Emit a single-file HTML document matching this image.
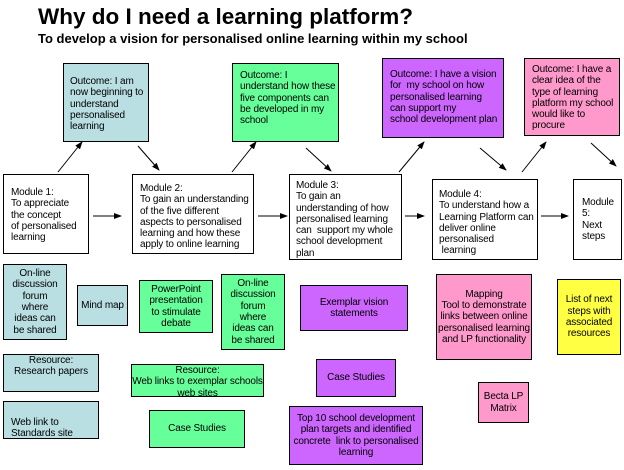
<!DOCTYPE html>
<html><head><meta charset="utf-8"><style>
html,body{margin:0;padding:0;background:#fff;}
body{width:624px;height:470px;position:relative;overflow:hidden;font-family:"Liberation Sans",Arial,sans-serif;}
.b{position:absolute;box-sizing:border-box;border:1px solid #000;font-size:10px;line-height:11.3px;color:#000;white-space:nowrap;letter-spacing:-0.15px;}
.c{text-align:center;display:flex;align-items:center;justify-content:center;}
.blue{background:#b9dfe3;}
.green{background:#66ff99;}
.purple{background:#cc66ff;}
.pink{background:#ff99cc;}
.yellow{background:#ffff44;}
.w{background:#fff;}
h1{position:absolute;left:38px;top:4px;margin:0;font-size:22.5px;font-weight:bold;white-space:nowrap;}
h2{position:absolute;left:38px;top:31px;margin:0;font-size:13px;font-weight:bold;white-space:nowrap;}
svg{position:absolute;left:0;top:0;}
</style></head><body>
<h1>Why do I need a learning platform?</h1>
<h2>To develop a vision for personalised online learning within my school</h2>

<div class="b blue" style="left:63px;top:63px;width:86px;height:79px;padding:12px 0 0 6px;">Outcome: I am<br>now beginning to<br>understand<br>personalised<br>learning</div>
<div class="b green" style="left:232px;top:63px;width:107px;height:79px;padding:6px 0 0 7px;">Outcome: I<br>understand how these<br>five components can<br>be developed in my<br>school</div>
<div class="b purple" style="left:382px;top:58px;width:122px;height:80px;padding:10px 0 0 7px;">Outcome: I have a vision<br>for&nbsp; my school on how<br>personalised learning<br>can support my<br>school development plan</div>
<div class="b pink" style="left:524px;top:58px;width:96px;height:78px;padding:5px 0 0 7px;">Outcome: I have a<br>clear idea of the<br>type of learning<br>platform my school<br>would like to<br>procure</div>

<div class="b w" style="left:3px;top:174px;width:86px;height:80px;padding:12px 0 0 7px;">Module 1:<br>To appreciate<br>the concept<br>of personalised<br>learning</div>
<div class="b w" style="left:132px;top:174px;width:122px;height:80px;padding:8px 0 0 7px;">Module 2:<br>To gain an understanding<br>of the five different<br>aspects to personalised<br>learning and how these<br>apply to online learning</div>
<div class="b w" style="left:289px;top:174px;width:113px;height:86px;padding:5px 0 0 6px;">Module 3:<br>To gain an<br>understanding of how<br>personalised learning<br>can&nbsp; support my whole<br>school development<br>plan</div>
<div class="b w" style="left:432px;top:179px;width:106px;height:81px;padding:9px 0 0 6px;">Module 4:<br>To understand how a<br>Learning Platform can<br>deliver online<br>personalised<br>&nbsp;learning</div>
<div class="b w" style="left:573px;top:179px;width:49px;height:81px;padding:17px 0 0 8px;">Module<br>5:<br>Next<br>steps</div>

<div class="b blue c" style="left:3px;top:264px;width:64px;height:76px;">On-line<br>discussion<br>forum<br>where<br>ideas can<br>be shared</div>
<div class="b blue c" style="left:77px;top:285px;width:51px;height:41px;">Mind map</div>
<div class="b green c" style="left:139px;top:280px;width:74px;height:53px;">PowerPoint<br>presentation<br>to stimulate<br>debate</div>
<div class="b green c" style="left:221px;top:274px;width:64px;height:76px;">On-line<br>discussion<br>forum<br>where<br>ideas can<br>be shared</div>
<div class="b blue" style="left:3px;top:354px;width:96px;height:38px;text-align:center;">Resource:<br>Research papers</div>
<div class="b green" style="left:131px;top:364px;width:133px;height:33px;text-align:center;">Resource:<br>Web links to exemplar schools<br>web sites</div>
<div class="b blue" style="left:3px;top:401px;width:96px;height:38px;padding:15px 0 0 7px;">Web link to<br>Standards site</div>
<div class="b green c" style="left:149px;top:410px;width:96px;height:38px;">Case Studies</div>

<div class="b purple c" style="left:300px;top:285px;width:108px;height:46px;">Exemplar vision<br>statements</div>
<div class="b purple c" style="left:316px;top:359px;width:80px;height:38px;">Case Studies</div>
<div class="b purple c" style="left:289px;top:406px;width:134px;height:59px;">Top 10 school development<br>plan targets and identified<br>concrete&nbsp; link to personalised<br>learning</div>
<div class="b pink c" style="left:436px;top:274px;width:96px;height:86px;">Mapping<br>Tool to demonstrate<br>links between online<br>personalised learning<br>and LP functionality</div>
<div class="b pink c" style="left:478px;top:382px;width:51px;height:41px;">Becta LP<br>Matrix</div>
<div class="b yellow c" style="left:557px;top:279px;width:64px;height:76px;">List of next<br>steps with<br>associated<br>resources</div>

<svg width="624" height="470" viewBox="0 0 624 470">
<defs><marker id="a" markerWidth="8" markerHeight="6" refX="7" refY="3" orient="auto" markerUnits="userSpaceOnUse"><path d="M0,0 L8,3 L0,6 Z" fill="#000"/></marker></defs>
<g stroke="#000" stroke-width="1" fill="none" marker-end="url(#a)">
<line x1="93" y1="216" x2="121" y2="216"/>
<line x1="258" y1="216" x2="287" y2="216"/>
<line x1="405" y1="216" x2="424" y2="216"/>
<line x1="541" y1="216" x2="568" y2="216"/>
<line x1="58" y1="172" x2="82" y2="142"/>
<line x1="138" y1="146" x2="159" y2="170"/>
<line x1="232" y1="172" x2="256" y2="142"/>
<line x1="306" y1="148" x2="331" y2="171"/>
<line x1="399" y1="172" x2="424" y2="142"/>
<line x1="480" y1="148" x2="506" y2="170"/>
<line x1="522" y1="172" x2="546" y2="142"/>
<line x1="591" y1="143" x2="616" y2="166"/>
</g>
</svg>
</body></html>
